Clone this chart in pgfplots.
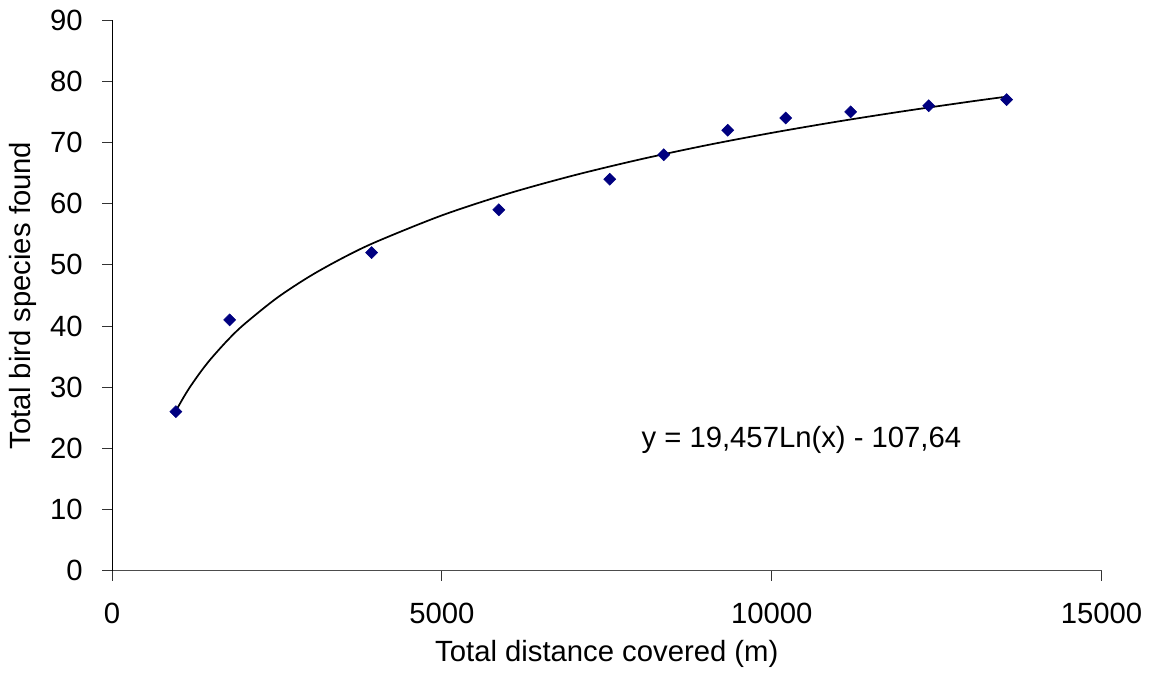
\documentclass[border=0pt]{standalone}
\usepackage{fontspec}
\setmainfont{Liberation Sans}
\usepackage{pgfplots}
\pgfplotsset{compat=1.18}

\definecolor{navy}{RGB}{0,0,128}

\begin{document}
\fontsize{22}{26}\selectfont
\begin{tikzpicture}
	\begin{axis}[
		scale only axis,
		width=744pt, height=414pt,
		xmin=0, xmax=15000,
		ymin=0, ymax=90,
		xtick={0,5000,10000,15000},
		ytick={0,10,...,90},
		scaled ticks=false,
		axis lines*=left,
		xtick pos=left, ytick pos=left,
		axis line style={line width=0.7pt},
		x axis line style={black!70},
		y axis line style={black},
		tick style={black!80, line width=0.7pt},
		tick align=outside,
		major tick length=7.5pt,
		/pgf/number format/assume math mode=true,
		/pgf/number format/set thousands separator={},
		ticklabel style={font=\fontsize{22}{26}\selectfont},
		xticklabel style={yshift=-9pt},
		yticklabel style={xshift=-7pt},
		label style={font=\fontsize{22}{26}\selectfont},
		xlabel={Total distance covered (m)},
		ylabel={Total bird species found},
		xlabel style={yshift=2pt},
		ylabel style={yshift=-5pt},
		clip=false,
	]
	% observed points
	\addplot[only marks, mark=square*, mark size=3.2pt, color=navy,
		mark options={rotate=45}]
	coordinates {
		(968,26)(1784,41)(3935,52)(5864,59)(7545,64)(8364,68)
		(9333,72)(10212,74)(11197,75)(12379,76)(13561,77)
	};
	% logarithmic trendline, y = 19,457 ln(x) - 107,64 (values tabulated)
	\addplot[smooth, black, line width=1.3pt]
	coordinates {
		(968,26.13)(1100,28.62)(1200,30.31)(1350,32.60)(1500,34.65)
		(1750,37.65)(2000,40.25)(2500,44.59)(3000,48.14)(3500,51.14)
		(4000,53.74)(5000,58.08)(6000,61.63)(7000,64.62)(8000,67.22)
		(9000,69.52)(10000,71.57)(11000,73.42)(12000,75.11)(13000,76.67)
		(13561,77.49)
	};
	\node[font=\fontsize{22}{26}\selectfont] at (axis cs:10450,21.4)
		{y = 19,457Ln(x) - 107,64};
	\end{axis}
\end{tikzpicture}
\end{document}
